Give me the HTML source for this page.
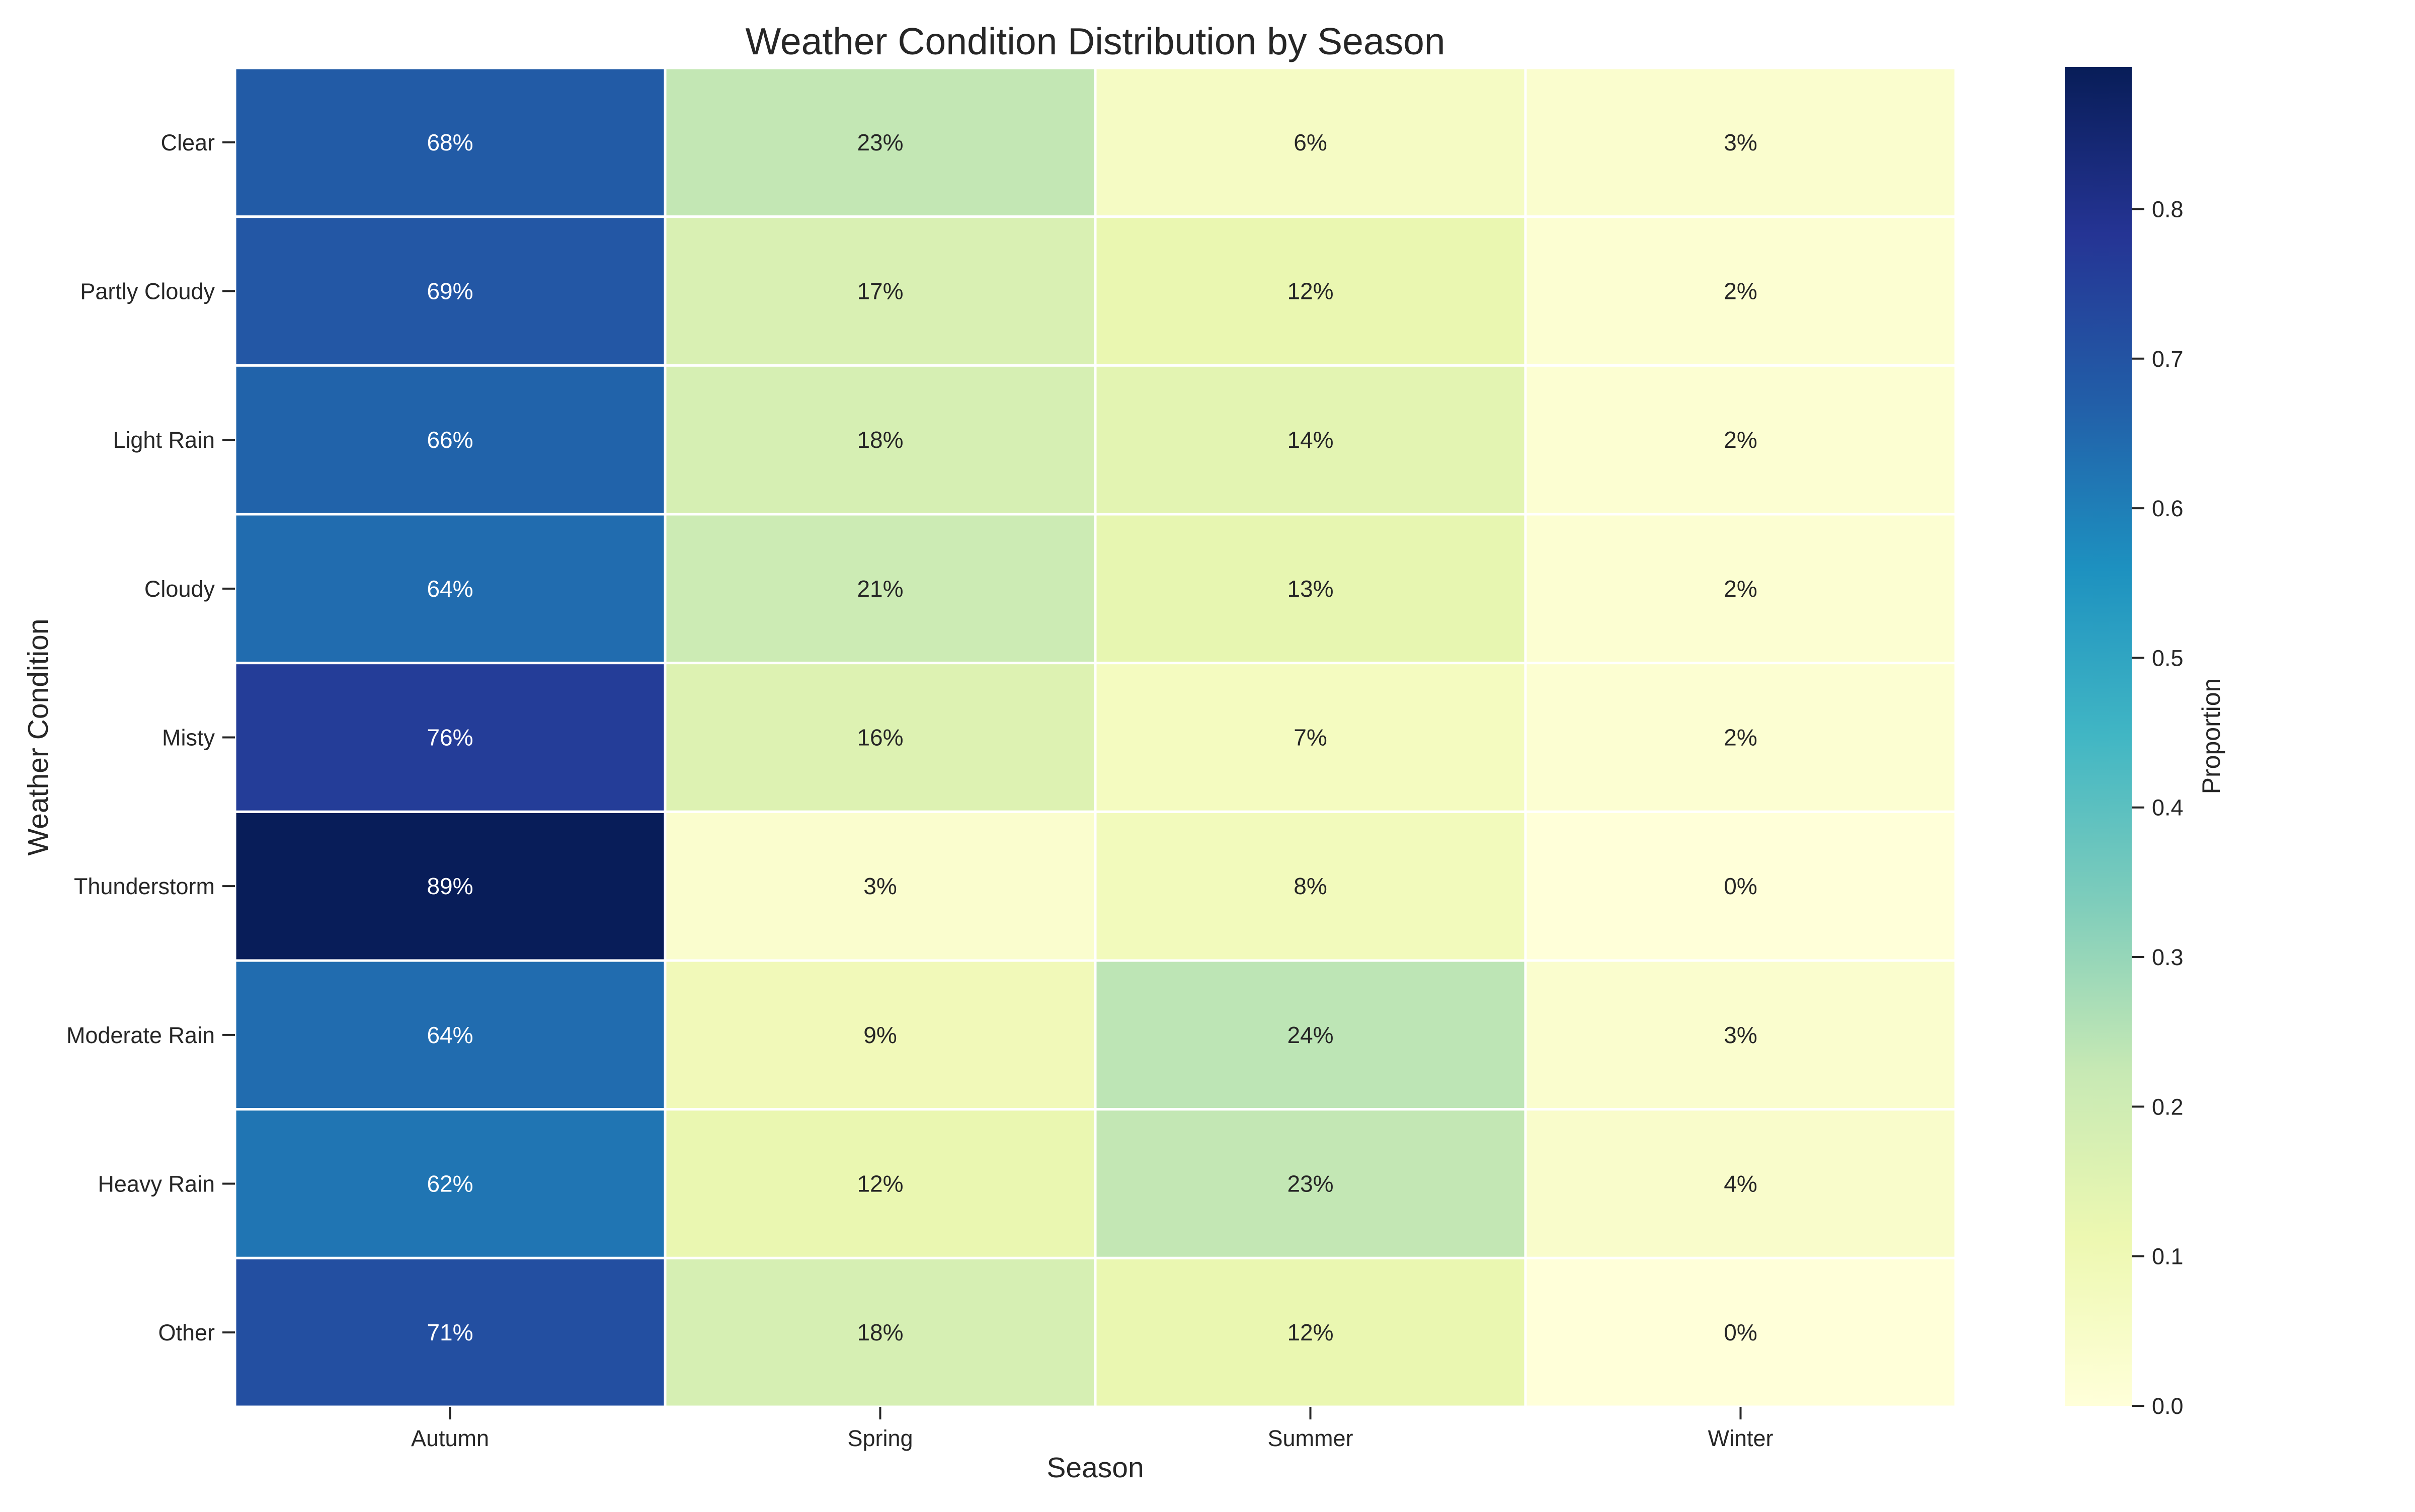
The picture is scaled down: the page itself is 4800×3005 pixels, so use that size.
<!DOCTYPE html>
<html><head><meta charset="utf-8"><style>
html,body{margin:0;padding:0;background:#fff;}
svg text{font-family:"Liberation Sans",Arial,sans-serif;}
</style></head><body>
<svg id="chart" xmlns="http://www.w3.org/2000/svg" width="4800" height="3000" viewBox="0 0 4800 3000">
<rect width="4800" height="3000" fill="#fff"/>
<text x="2177" y="108" font-size="75" text-anchor="middle" fill="#262626">Weather Condition Distribution by Season</text>
<g id="cells"></g>
<g id="yticks"></g>
<g id="xticks"></g>
<text transform="translate(95,1465) rotate(-90)" font-size="57" text-anchor="middle" fill="#262626">Weather Condition</text>
<text x="2177" y="2968" font-size="57" text-anchor="middle" fill="#262626" dy="-32">Season</text>
<defs><linearGradient id="cbgrad" x1="0" y1="1" x2="0" y2="0">
<stop offset="0" stop-color="#ffffd9"/><stop offset="0.125" stop-color="#edf8b1"/><stop offset="0.25" stop-color="#c7e9b4"/><stop offset="0.375" stop-color="#7fcdbb"/><stop offset="0.5" stop-color="#41b6c4"/><stop offset="0.625" stop-color="#1d91c0"/><stop offset="0.75" stop-color="#225ea8"/><stop offset="0.875" stop-color="#253494"/><stop offset="1" stop-color="#081d58"/>
</linearGradient></defs>
<rect x="4104" y="133" width="133" height="2661" fill="url(#cbgrad)"/>
<g id="cbticks"></g>
<text transform="translate(4412,1463) rotate(-90)" font-size="50" text-anchor="middle" fill="#262626">Proportion</text>
</svg>
<script>
const conditions = ["Clear","Partly Cloudy","Light Rain","Cloudy","Misty","Thunderstorm","Moderate Rain","Heavy Rain","Other"];
const seasons = ["Autumn","Spring","Summer","Winter"];
const autumn = [0.68,0.69,0.66,0.64,0.76,0.894,0.64,0.62,0.71];
const spring = [0.23,0.17,0.18,0.21,0.16,0.03,0.09,0.12,0.18];
const summer = [0.06,0.12,0.14,0.13,0.07,0.08,0.24,0.23,0.12];
const winter = [0.03,0.02,0.02,0.02,0.02,0.00,0.03,0.04,0.00];
const cbTicks = [0.0,0.1,0.2,0.3,0.4,0.5,0.6,0.7,0.8];
const vmin = 0, vmax = 0.895;

const NS = "http://www.w3.org/2000/svg";
const L = 467, R = 3887, T = 135, B = 2796;
const colW = (R - L) / seasons.length, rowH = (B - T) / conditions.length;
const xPos = i => L + i * colW;
const yPos = j => T + j * rowH;
const stops = ["#ffffd9","#edf8b1","#c7e9b4","#7fcdbb","#41b6c4","#1d91c0","#225ea8","#253494","#081d58"].map(h=>[parseInt(h.slice(1,3),16),parseInt(h.slice(3,5),16),parseInt(h.slice(5,7),16)]);
function cmap(v){
  let t = Math.max(0, Math.min(1, (v - vmin) / (vmax - vmin))) * (stops.length - 1);
  let i = Math.min(Math.floor(t), stops.length - 2), f = t - i;
  return stops[i].map((c,k)=>Math.round(c + (stops[i+1][k]-c)*f));
}
function lum(c){
  const l = c.map(x=>{x/=255;return x<=0.03928?x/12.92:Math.pow((x+0.055)/1.055,2.4);});
  return 0.2126*l[0]+0.7152*l[1]+0.0722*l[2];
}
function mk(tag, attrs, parent){
  const e = document.createElementNS(NS, tag);
  for (const k in attrs) e.setAttribute(k, attrs[k]);
  parent.appendChild(e);
  return e;
}
const series = [autumn, spring, summer, winter];
const cells = document.getElementById("cells");
series.forEach((vals, i) => {
  vals.forEach((v, j) => {
    const c = cmap(v);
    const r = mk("rect", {x: xPos(i), y: yPos(j), width: colW, height: rowH, fill: `rgb(${c[0]},${c[1]},${c[2]})`, stroke: "#fff", "stroke-width": 5}, cells);
    
    
    const t = mk("text", {x: xPos(i) + colW/2, y: yPos(j) + rowH/2 + 16, "font-size": 46, "text-anchor": "middle", fill: lum(c) > 0.408 ? "#262626" : "#ffffff"}, cells);
    
    
    t.textContent = Math.round(v * 100) + "%";
  });
});
const yt = document.getElementById("yticks");
conditions.forEach((name, j) => {
  const y = yPos(j) + rowH/2;
  const ln = mk("line", {x1: L - 25, x2: L, y1: y, y2: y, stroke: "#262626", "stroke-width": 4}, yt);
  
  
  const t = mk("text", {x: L - 40, y: y + 16, "font-size": 45, "text-anchor": "end", fill: "#262626"}, yt);
  
  
  t.textContent = name;
});
const xt = document.getElementById("xticks");
seasons.forEach((name, i) => {
  const x = xPos(i) + colW/2;
  const ln = mk("line", {x1: x, x2: x, y1: B, y2: B + 25, stroke: "#262626", "stroke-width": 4}, xt);
  
  
  const t = mk("text", {x: x, y: B + 78, "font-size": 45, "text-anchor": "middle", fill: "#262626"}, xt);
  
  
  t.textContent = name;
});
const cbt = document.getElementById("cbticks");
const cbY = v => 2794 - (v - vmin) / (vmax - vmin) * (2794 - 133);
cbTicks.forEach(v => {
  const y = cbY(v);
  const ln = mk("line", {x1: 4237, x2: 4262, y1: y, y2: y, stroke: "#262626", "stroke-width": 4}, cbt);
  
  
  const t = mk("text", {x: 4277, y: y + 16, "font-size": 45, fill: "#262626"}, cbt);
  
  
  t.textContent = v.toFixed(1);
});
</script>
</body></html>
